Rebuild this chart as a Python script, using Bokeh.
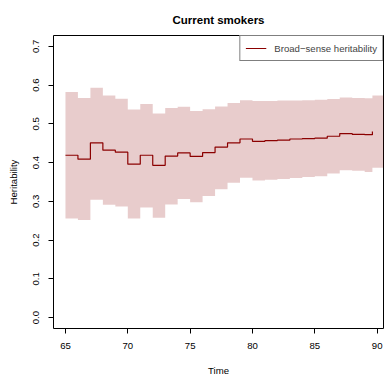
from bokeh.plotting import figure
from bokeh.models import Range1d, FixedTicker, Legend, LegendItem, CustomJSTickFormatter
from bokeh.embed import file_html
from bokeh.resources import INLINE

# ---- data ----
times = [65, 66, 67, 68, 69, 70, 71, 72, 73, 74, 75, 76, 77, 78, 79, 80,
         81, 82, 83, 84, 85, 86, 87, 88, 89, 89.62]
heritability = [0.419, 0.409, 0.451, 0.432, 0.427, 0.396, 0.419, 0.393, 0.417,
                0.425, 0.416, 0.426, 0.440, 0.451, 0.461, 0.455, 0.457, 0.458,
                0.461, 0.462, 0.463, 0.468, 0.475, 0.473, 0.472, 0.480]
upper = [0.582, 0.567, 0.593, 0.573, 0.565, 0.537, 0.551, 0.527, 0.541, 0.544,
         0.533, 0.538, 0.545, 0.554, 0.561, 0.559, 0.559, 0.560, 0.560, 0.561,
         0.562, 0.564, 0.568, 0.567, 0.566, 0.573]
lower = [0.256, 0.252, 0.304, 0.291, 0.287, 0.256, 0.284, 0.258, 0.292, 0.306,
         0.298, 0.314, 0.331, 0.348, 0.361, 0.354, 0.356, 0.358, 0.360, 0.363,
         0.365, 0.372, 0.380, 0.379, 0.376, 0.387]
band_end = 91.0  # band continues to the right edge of the panel
x_ticks = [65, 70, 75, 80, 85, 90]
y_ticks = [0.0, 0.1, 0.2, 0.3, 0.4, 0.5, 0.6, 0.7]

band_x = times + [band_end]
band_upper = upper + [upper[-1]]
band_lower = lower + [lower[-1]]

FONT = "Liberation Sans"
FS = "9.6px"

p = figure(width=384, height=378, output_backend="svg", toolbar_location=None,
           x_range=Range1d(64.04, 90.51), y_range=Range1d(-0.028, 0.728),
           min_border_left=53, min_border_right=1, min_border_top=35,
           min_border_bottom=45, title="Current smokers")

p.background_fill_color = "white"
p.border_fill_color = "white"
p.outline_line_color = "black"
p.outline_line_width = 1
p.xgrid.visible = False
p.ygrid.visible = False

p.title.align = "center"
p.title.text_font = FONT
p.title.text_font_size = "11.5px"
p.title.text_font_style = "bold"
p.title.text_color = "black"
p.title.standoff = 20

band = p.varea_step(x=band_x, y1=band_lower, y2=band_upper, step_mode="after",
                    fill_color="#8B0000", fill_alpha=0.2)
line = p.step(x=times, y=heritability, mode="after", line_color="#8B0000",
              line_width=1.2)

for ax, ticks in ((p.xaxis[0], x_ticks), (p.yaxis[0], y_ticks)):
    ax.ticker = FixedTicker(ticks=ticks, minor_ticks=[])
    ax.major_tick_in = 0
    ax.major_tick_out = 5
    ax.minor_tick_line_color = None
    ax.axis_line_color = None
    ax.major_tick_line_color = "black"
    ax.major_label_text_font = FONT
    ax.major_label_text_font_size = FS
    ax.major_label_text_color = "black"
    ax.axis_label_text_font = FONT
    ax.axis_label_text_font_size = FS
    ax.axis_label_text_font_style = "normal"
    ax.axis_label_text_color = "black"

p.xaxis[0].axis_label = "Time"
p.yaxis[0].axis_label = "Heritability"
p.xaxis[0].major_label_standoff = 9
p.xaxis[0].axis_label_standoff = 13
p.yaxis[0].major_label_orientation = "vertical"
p.yaxis[0].major_label_standoff = 9
p.yaxis[0].axis_label_standoff = 12
p.yaxis[0].formatter = CustomJSTickFormatter(code="return tick.toFixed(1);")

legend = Legend(items=[LegendItem(label="Broad\u2212sense heritability", renderers=[line])],
                location="top_right", margin=0, padding=5, spacing=0,
                glyph_width=21, glyph_height=14, label_height=14, label_standoff=8,
                label_text_font=FONT, label_text_font_size=FS,
                border_line_color="black", border_line_width=1,
                background_fill_color="white", background_fill_alpha=1.0)
p.add_layout(legend)

open("out.html", "w").write(file_html(p, INLINE))
